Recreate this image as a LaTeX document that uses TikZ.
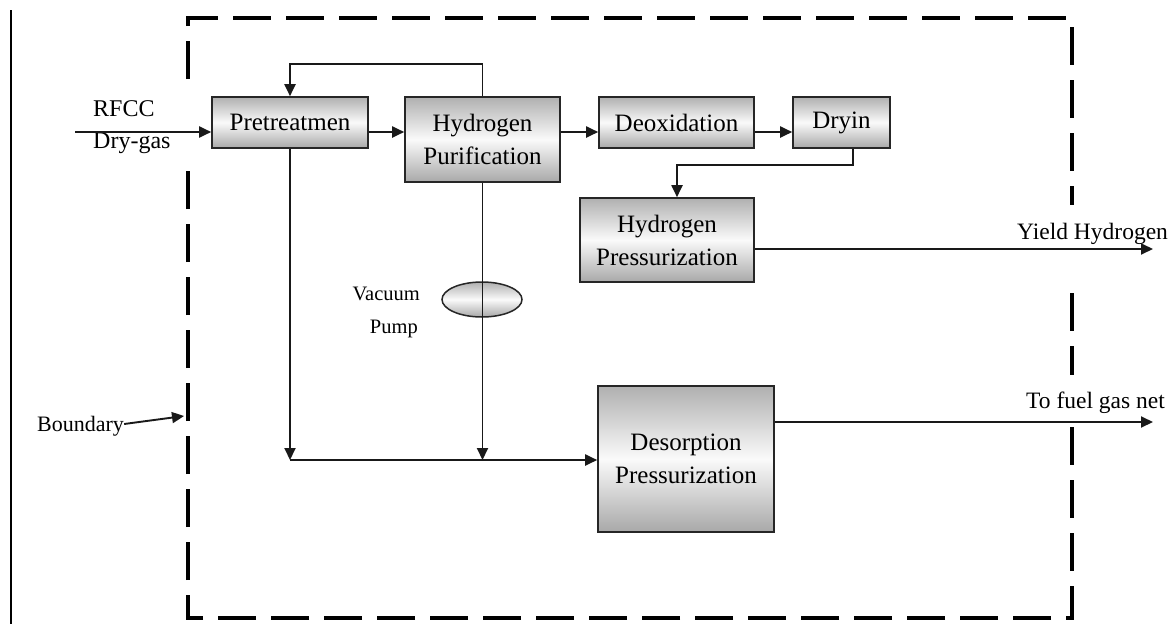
\documentclass[tikz,border=0pt]{standalone}
\usepackage{fontspec}
\setmainfont{Liberation Serif}
\usetikzlibrary{arrows.meta,shapes.geometric}
\begin{document}
\begin{tikzpicture}[x=1pt,y=-1pt,
  box/.style={draw=black!85,line width=1.6pt,top color=gray!62,bottom color=gray!68,middle color=gray!4,
    inner sep=0pt,align=center,font=\fontsize{25}{33}\selectfont},
  flow/.style={line width=1.9pt,draw=black!90},
  arr/.style={flow,-{Triangle[length=12pt,width=11pt]}},
  bound/.style={line width=4.5pt,dash pattern=on 38pt off 15pt},
  lbl/.style={inner sep=0pt,font=\fontsize{24}{28}\selectfont},
  small/.style={inner sep=0pt,font=\fontsize{20.5}{24}\selectfont}]
\useasboundingbox (0,0) rectangle (1173,624);

% left rule
\draw[line width=1.2pt] (11,10) -- (11,624);

% boundary
\draw[bound] (188,79) -- (188,18) -- (1072,18) -- (1072,205);
\draw[bound] (1072,293) -- (1072,375);
\draw[bound] (1072,427) -- (1072,618) -- (188,618) -- (188,167);

% boxes
\node[box,minimum width=156pt,minimum height=51pt] (pre) at (290,122.5) {Pretreatmen};
\node[box,minimum width=155pt,minimum height=85pt] (hp) at (482.5,139.5) {Hydrogen\\Purification};
\node[box,minimum width=155pt,minimum height=51pt] (deo) at (676.5,122.5) {Deoxidation};
\node[box,minimum width=97pt,minimum height=51pt] (dry) at (841.5,122.5) {Dryin};
\node[box,minimum width=174pt,minimum height=84pt] (hpr) at (667,240) {Hydrogen\\Pressurization};
\node[box,minimum width=176pt,minimum height=146pt] (des) at (686,459) {Desorption\\Pressurization};
\node[draw=black!85,line width=1.5pt,ellipse,top color=gray!62,bottom color=gray!68,middle color=gray!4,
  minimum width=80pt,minimum height=35pt,inner sep=0pt] (pump) at (482,299.5) {};

% labels
\node[lbl,anchor=base west] (rfcc) at (93,116) {RFCC};
\node[lbl,anchor=base west] (dgas) at (93,148) {Dry-gas};
\node[small,anchor=base east] (vac) at (420,300) {Vacuum};
\node[small,anchor=base east] (pmp) at (418,333) {Pump};
\node[lbl,font=\fontsize{22}{26}\selectfont,anchor=base west] (bd) at (37,431) {Boundary};
\node[lbl,font=\fontsize{23.5}{28}\selectfont,anchor=base west] (yh) at (1017,239) {Yield Hydrogen};
\node[lbl,font=\fontsize{23.5}{28}\selectfont,anchor=base west] (fg) at (1026,408) {To fuel gas net};

% helper coordinates
\coordinate (in) at (75,132);
\coordinate (r1) at (0,132);
\coordinate (yout) at (1153,249);
\coordinate (fout) at (1153,422);
\coordinate (fb) at (0,64);
\coordinate (bus) at (0,460);
\coordinate (drop) at (853,0);
\coordinate (dr2) at (0,165);
\coordinate (hpin) at (677,0);
\coordinate (bnd) at (184,416);

% connectors
\draw[arr] (in) -- (pre.west |- in);
\draw[arr] (pre.east |- r1) -- (hp.west |- r1);
\draw[arr] (hp.east |- r1) -- (deo.west |- r1);
\draw[arr] (deo.east |- r1) -- (dry.west |- r1);
\draw[arr] (dry.south -| drop) -- (drop |- dr2) -- (hpin |- dr2) -- (hpin |- hpr.north);
\draw[arr] (hpr.east |- yout) -- (yout);
\draw[arr] (des.east |- fout) -- (fout);
\draw[arr] (hp.north) -- (hp.north |- fb) -- (pre.north |- fb) -- (pre.north);
\draw[arr] (pre.south) -- (pre.south |- bus);
\draw[arr] (hp.south) -- (hp.south |- bus);
\draw[arr] (pre.south |- bus) -- (des.west |- bus);
\draw[arr] (bd.east |- 0,424) -- (bnd);
\end{tikzpicture}
\end{document}
